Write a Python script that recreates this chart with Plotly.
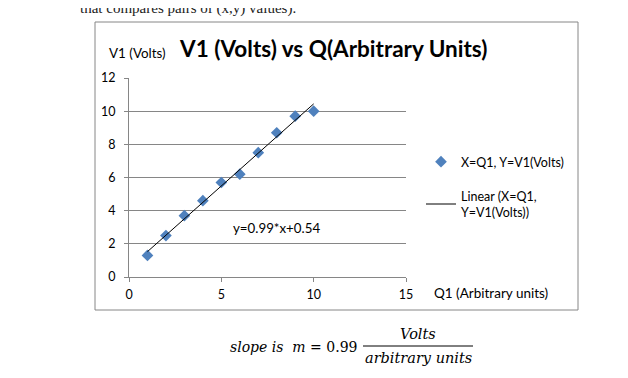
import plotly.graph_objects as go

# Data
q1 = [1, 2, 3, 4, 5, 6, 7, 8, 9, 10]
v1 = [1.3, 2.5, 3.7, 4.6, 5.7, 6.2, 7.5, 8.7, 9.7, 10.0]
fit_slope = 0.99
fit_intercept = 0.54
x_ticks = [0, 5, 10, 15]
y_ticks = [0, 2, 4, 6, 8, 10, 12]

fit_x = [q1[0], q1[-1]]
fit_y = [fit_slope * x + fit_intercept for x in fit_x]

FONT = "Lato"
GRID = "#868686"

# page body has an 8px margin, so the figure is drawn 8px in from the window corner
OFF = 8
L, R, T, B = 129 - OFF, 406 - OFF, 78 - OFF, 277 - OFF
W, H = 628 - OFF, 378 - OFF
PW, PH = R - L, B - T


def px(x):  # reference window pixel -> paper x
    return (x - OFF - L) / PW


def py(y):  # reference window pixel -> paper y
    return (B - (y - OFF)) / PH


fig = go.Figure()
fig.add_trace(go.Scatter(
    x=q1, y=v1, mode="markers", name="X=Q1, Y=V1(Volts)",
    marker=dict(symbol="diamond", size=9, color="#4F81BD"),
    legendgroup="a",
))
fig.add_trace(go.Scatter(
    x=fit_x, y=fit_y, mode="lines", name="Linear (X=Q1,<br>Y=V1(Volts))",
    line=dict(color="black", width=1),
    legendgroup="b",
))

fig.update_layout(
    width=W, height=H,
    margin=dict(l=L, r=W - R, t=T, b=H - B, autoexpand=False),
    paper_bgcolor="white", plot_bgcolor="white",
    font=dict(family=FONT, size=12, color="black"),
    showlegend=True,
    legend=dict(x=px(421), y=py(147), xanchor="left", yanchor="top",
                font=dict(family=FONT, size=12.5), itemwidth=30,
                tracegroupgap=15, bgcolor="rgba(0,0,0,0)"),
    xaxis=dict(range=[0, 15], tickvals=x_ticks, showgrid=False, zeroline=False,
               showline=True, linecolor=GRID, linewidth=1,
               ticks="outside", ticklen=4, tickcolor=GRID, ticklabelstandoff=2,
               tickfont=dict(family=FONT, size=12.5)),
    yaxis=dict(range=[0, 12], tickvals=y_ticks, showgrid=True, gridcolor=GRID,
               gridwidth=1, zeroline=False,
               showline=True, linecolor=GRID, linewidth=1,
               ticks="outside", ticklen=4, tickcolor=GRID, ticklabelstandoff=6,
               tickfont=dict(family=FONT, size=12.5)),
)

# chart border
fig.add_shape(type="rect", xref="paper", yref="paper",
              x0=px(95), x1=px(578), y0=py(310), y1=py(22),
              line=dict(color=GRID, width=1), fillcolor="rgba(0,0,0,0)", layer="below")

ann = []
ann.append(dict(text="<b>V1 (Volts) vs Q(Arbitrary Units)</b>", xref="paper", yref="paper",
                x=px(333), y=py(48), xanchor="center", yanchor="middle",
                showarrow=False, font=dict(family=FONT, size=22.5, color="black")))
ann.append(dict(text="V1 (Volts)", xref="paper", yref="paper",
                x=px(107), y=py(53), xanchor="left", yanchor="middle",
                showarrow=False, font=dict(family=FONT, size=13.4)))
ann.append(dict(text="Q1 (Arbitrary units)", xref="paper", yref="paper",
                x=px(432), y=py(293), xanchor="left", yanchor="middle",
                showarrow=False, font=dict(family=FONT, size=13.5)))
ann.append(dict(text="y=0.99*x+0.54", xref="x", yref="y", x=8.0, y=2.96,
                xanchor="center", yanchor="middle", showarrow=False,
                font=dict(family=FONT, size=13.3)))
# surrounding document text (partly cut off by the top edge, as in the reference)
ann.append(dict(text="that compares pairs of (x,y) values).", xref="paper", yref="paper",
                x=px(78), y=py(9), xanchor="left", yanchor="middle",
                showarrow=False, font=dict(family="Liberation Serif", size=15, color="#222")))
ann.append(dict(text="<i>slope is  m</i> = 0.99", xref="paper", yref="paper",
                x=px(228), y=py(347), xanchor="left", yanchor="middle",
                showarrow=False, font=dict(family="DejaVu Serif", size=14)))
ann.append(dict(text="<i>Volts</i>", xref="paper", yref="paper",
                x=px(418), y=py(334), xanchor="center", yanchor="middle",
                showarrow=False, font=dict(family="DejaVu Serif", size=14.5)))
ann.append(dict(text="<i>arbitrary units</i>", xref="paper", yref="paper",
                x=px(418), y=py(358), xanchor="center", yanchor="middle",
                showarrow=False, font=dict(family="DejaVu Serif", size=14.5)))
fig.update_layout(annotations=ann)
fig.add_shape(type="line", xref="paper", yref="paper",
              x0=px(363), x1=px(473), y0=py(346), y1=py(346),
              line=dict(color="black", width=1))

fig.write_html("out.html")
